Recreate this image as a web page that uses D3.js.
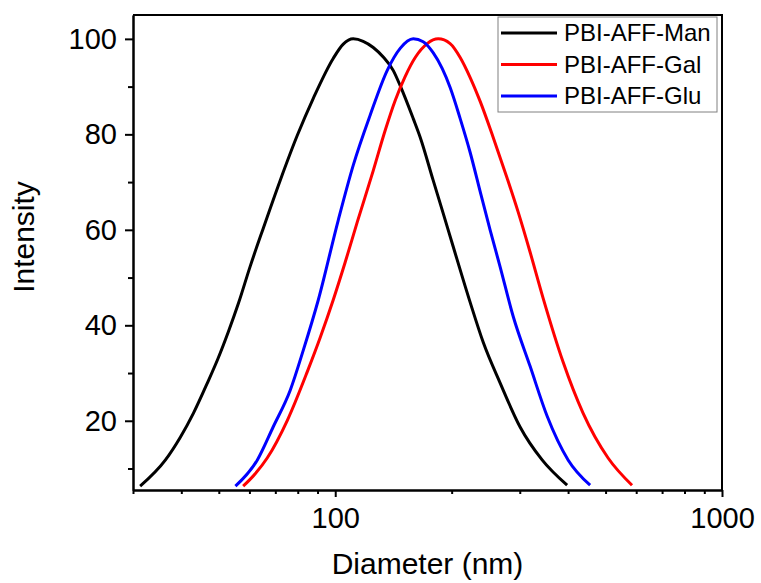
<!DOCTYPE html>
<html>
<head>
<meta charset="utf-8">
<script src="https://cdn.jsdelivr.net/npm/d3@7"></script>
<style>
  body { margin: 0; background: #fff; }
  svg { display: block; font-family: "Liberation Sans", Arial, sans-serif; }
</style>
</head>
<body>
<div id="chart"></div>
<script>
// DLS size distributions
const manDiameter = [31.3, 36.4, 39.8, 43.0, 46.7, 49.8, 52.9, 56.2, 60.3, 65.2, 72.1, 79.8, 87.7, 98.8, 104.9, 111.3, 118.1, 125.4, 133.1, 141.2, 147.2, 159.1, 165.8, 179.1, 190.1, 201.8, 223.3, 241.2, 267.0, 300.6, 342.7, 397.7];
const manIntensity = [6.3, 11.8, 16.6, 21.6, 27.9, 33.1, 38.6, 44.6, 52.4, 60.4, 70.4, 79.8, 87.5, 95.9, 98.9, 100, 99.5, 98.2, 96.2, 93.4, 90.2, 83.3, 79.4, 70.4, 63.5, 56.5, 44.8, 36.5, 27.9, 18.7, 11.8, 6.5];

const galDiameter = [57.8, 62.1, 66.7, 75.2, 84.6, 91.5, 98.8, 106.1, 114.0, 125.4, 134.6, 142.9, 151.6, 161.0, 172.9, 184.6, 198.2, 210.4, 223.3, 237.0, 256.0, 278.3, 297.2, 319.1, 344.7, 388.3, 437.3, 507.6, 585.3];
const galIntensity = [6.3, 8.9, 12.2, 20.1, 30.2, 37.5, 45.3, 53.2, 61.6, 72.4, 80.8, 87.1, 92.1, 96.1, 99.0, 100, 99.0, 96.1, 91.9, 86.9, 79.4, 70.8, 63.7, 55.3, 45.7, 32.3, 21.6, 12.2, 6.5];

const gluDiameter = [55.2, 62.9, 69.1, 76.5, 82.7, 90.4, 101.8, 111.3, 123.1, 136.3, 147.2, 159.1, 168.8, 179.1, 189.0, 198.2, 210.4, 223.3, 238.4, 251.6, 267.0, 288.4, 319.1, 353.0, 400.0, 456.0];
const gluIntensity = [6.3, 11.8, 18.7, 26.4, 34.8, 45.3, 62.0, 73.5, 84.0, 93.4, 98.0, 100, 99.4, 97.1, 93.8, 89.8, 83.3, 76.2, 67.2, 59.9, 52.2, 41.9, 31.4, 21.0, 11.8, 6.5];

const seriesNames = ['PBI-AFF-Man', 'PBI-AFF-Gal', 'PBI-AFF-Glu'];
const seriesColors = ['#000000', '#ff0000', '#0000ff'];

const xMajorTicks = [100, 1000];
const xMinorTicks = [30, 40, 50, 60, 70, 80, 90, 200, 300, 400, 500, 600, 700, 800, 900];
const yMajorTicks = [20, 40, 60, 80, 100];
const yMinorTicks = [10, 30, 50, 70, 90];

const series = [
  { name: seriesNames[0], color: seriesColors[0], x: manDiameter, y: manIntensity },
  { name: seriesNames[1], color: seriesColors[1], x: galDiameter, y: galIntensity },
  { name: seriesNames[2], color: seriesColors[2], x: gluDiameter, y: gluIntensity }
];

const width = 761, height = 583;
const margin = { top: 15, right: 39, bottom: 93, left: 133 };
const innerWidth = width - margin.left - margin.right;
const innerHeight = height - margin.top - margin.bottom;

const svg = d3.select('#chart').append('svg')
  .attr('width', width)
  .attr('height', height);

const g = svg.append('g')
  .attr('transform', `translate(${margin.left},${margin.top})`);

const x = d3.scaleLog().domain([30, 1000]).range([0, innerWidth]);
const y = d3.scaleLinear().domain([5.5, 105]).range([innerHeight, 0]);

// frame (top + right)
g.append('path')
  .attr('d', `M0,0H${innerWidth}V${innerHeight}`)
  .attr('fill', 'none')
  .attr('stroke', '#000')
  .attr('stroke-width', 2);

// curves
const line = d3.line()
  .x(d => x(d[0]))
  .y(d => y(d[1]))
  .curve(d3.curveMonotoneX);

series.forEach(s => {
  g.append('path')
    .datum(d3.zip(s.x, s.y))
    .attr('d', line)
    .attr('fill', 'none')
    .attr('stroke', s.color)
    .attr('stroke-width', 3)
    .attr('stroke-linejoin', 'round');
});

// axes
const styleAxis = sel => {
  sel.selectAll('.tick line').attr('stroke', '#000').attr('stroke-width', 2);
  sel.select('.domain').attr('stroke', '#000').attr('stroke-width', 2);
  sel.selectAll('.tick text')
    .attr('fill', '#000')
    .attr('font-size', '29px')
    .attr('font-family', '"Liberation Sans", Arial, sans-serif');
};

g.append('g')
  .attr('transform', `translate(0,${innerHeight})`)
  .call(d3.axisBottom(x).tickValues(xMinorTicks).tickSize(4).tickSizeOuter(0).tickFormat(''))
  .call(styleAxis);

g.append('g')
  .attr('transform', `translate(0,${innerHeight})`)
  .call(d3.axisBottom(x).tickValues(xMajorTicks).tickSize(7).tickSizeOuter(0).tickPadding(10).tickFormat(d3.format('d')))
  .call(styleAxis);

g.append('g')
  .call(d3.axisLeft(y).tickValues(yMinorTicks).tickSize(5).tickSizeOuter(0).tickFormat(''))
  .call(styleAxis);

g.append('g')
  .call(d3.axisLeft(y).tickValues(yMajorTicks).tickSize(8).tickSizeOuter(0).tickPadding(8))
  .call(styleAxis);

// axis titles
svg.append('text')
  .attr('x', margin.left + innerWidth / 2)
  .attr('y', 574)
  .attr('text-anchor', 'middle')
  .attr('font-size', '30px')
  .text('Diameter (nm)');

svg.append('text')
  .attr('transform', 'translate(34,237) rotate(-90)')
  .attr('text-anchor', 'middle')
  .attr('font-size', '30px')
  .text('Intensity');

// legend
const legend = svg.append('g').attr('transform', 'translate(498,17)');

legend.append('rect')
  .attr('width', 219)
  .attr('height', 95)
  .attr('fill', '#fff')
  .attr('stroke', '#808080')
  .attr('stroke-width', 1);

series.forEach((s, i) => {
  const row = legend.append('g').attr('transform', `translate(0,${16 + i * 31.5})`);
  row.append('line')
    .attr('x1', 3).attr('x2', 59)
    .attr('stroke', s.color)
    .attr('stroke-width', 3);
  row.append('text')
    .attr('x', 66)
    .attr('dy', '0.35em')
    .attr('font-size', '24px')
    .text(s.name);
});
</script>
</body>
</html>
